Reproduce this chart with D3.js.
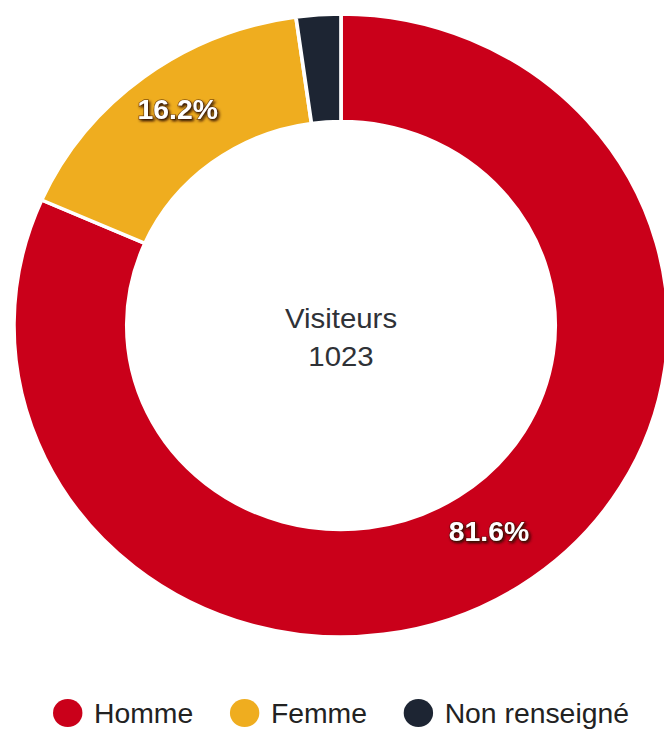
<!DOCTYPE html>
<html>
<head>
<meta charset="utf-8">
<script src="https://cdn.jsdelivr.net/npm/d3@7"></script>
<style>
  html, body { margin: 0; padding: 0; background: #fff; }
  svg { display: block; }
  text { font-family: "Liberation Sans", Arial, sans-serif; }
</style>
</head>
<body>
<div id="chart"></div>
<script>
// Visitors by gender (share in percent)
const categories = ["Homme", "Femme", "Non renseigné"];
const shares = [81.6, 16.2, 2.2];
const colors = ["#ca001a", "#efad1f", "#1d2533"];
const centerTitle = "Visiteurs";
const centerTotal = 1023;

const W = 664, H = 731;
const stretchX = 1.05;           // horizontal stretch of the whole drawing
const cx = 341, cy = 325.5;
const outerR = 311.5, innerR = 204;

const svg = d3.select("#chart").append("svg")
  .attr("width", W).attr("height", H);

const root = svg.append("g")
  .attr("transform", `translate(${cx},0) scale(${stretchX},1)`);

const data = categories.map((c, i) => ({ name: c, value: shares[i], color: colors[i] }));

const pie = d3.pie().sort(null).value(d => d.value);
const arc = d3.arc().innerRadius(innerR).outerRadius(outerR);
const labelArc = d3.arc().innerRadius(258).outerRadius(258);

const donut = root.append("g").attr("transform", `translate(0,${cy})`);
const arcs = pie(data);

donut.selectAll("path.slice")
  .data(arcs)
  .join("path")
  .attr("class", "slice")
  .attr("d", arc)
  .attr("fill", d => d.data.color)
  .attr("stroke", "#fff")
  .attr("stroke-width", 3.5)
  .attr("stroke-linejoin", "round");

// percentage labels on the larger slices
const defs = svg.append("defs");
const f = defs.append("filter").attr("id", "lblShadow")
  .attr("x", "-20%").attr("y", "-30%").attr("width", "140%").attr("height", "160%");
f.append("feDropShadow").attr("dx", 1.5).attr("dy", 1.8).attr("stdDeviation", 1.3)
  .attr("flood-color", "#2a0e06").attr("flood-opacity", 0.95);

donut.selectAll("text.pct")
  .data(arcs.filter(d => d.data.value > 5))
  .join("text")
  .attr("class", "pct")
  .attr("transform", d => { const [x, y] = labelArc.centroid(d); return `translate(${x},${y - 10})`; })
  .attr("text-anchor", "middle")
  .attr("dominant-baseline", "central")
  .attr("font-size", 27)
  .attr("font-weight", "bold")
  .attr("fill", "#fff")
  .attr("stroke", "rgba(60,20,10,0.6)")
  .attr("stroke-width", 1.4)
  .attr("paint-order", "stroke")
  .attr("filter", "url(#lblShadow)")
  .text(d => d3.format(".1f")(d.data.value) + "%");

// centre caption
const center = donut.append("text")
  .attr("text-anchor", "middle")
  .attr("font-size", 28)
  .attr("fill", "#2f3237");
center.append("tspan").attr("x", 0).attr("y", 2).text(centerTitle);
center.append("tspan").attr("x", 0).attr("y", 41).text(centerTotal);

// legend
const legend = root.append("g").attr("transform", `translate(0,713)`);
const symR = 14, symGap = 11, itemGap = 35;
const items = legend.selectAll("g.item")
  .data(data)
  .join("g")
  .attr("class", "item");

items.append("circle")
  .attr("r", symR)
  .attr("cx", symR)
  .attr("cy", 0)
  .attr("fill", d => d.color);

items.append("text")
  .attr("x", 2 * symR + symGap)
  .attr("y", 10)
  .attr("font-size", 27)
  .attr("fill", "#222")
  .text(d => d.name);

let offs = [], acc = 0;
items.each(function () {
  offs.push(acc);
  acc += this.getBBox().width + itemGap;
});
const total = acc - itemGap;
items.attr("transform", (d, i) => `translate(${offs[i] - total / 2},0)`);
</script>
</body>
</html>
